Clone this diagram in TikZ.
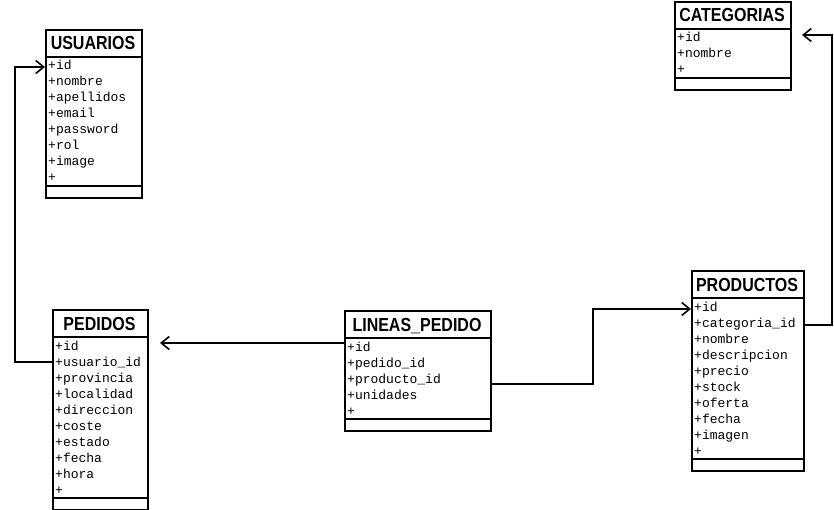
\documentclass[tikz,border=0pt]{standalone}
\usepackage{fontspec}
\setmainfont{Liberation Sans}
\newfontfamily\monof{Liberation Mono}
\usetikzlibrary{arrows.meta,calc}
\tikzset{
  umlbox/.style={draw, line width=2pt, inner sep=0pt, anchor=north west, fill=white},
  titletext/.style={font=\fontsize{16}{18}\selectfont\bfseries, inner sep=0pt, anchor=base},
  attrtext/.style={font=\monof\fontsize{13}{14}\selectfont, inner sep=0pt, anchor=base west},
  sepline/.style={line width=2pt},
  arr/.style={line width=2pt, -{Straight Barb[length=8pt,width=13pt,line width=1.6pt]}},
}
% #1 name, #2 x, #3 y, #4 width, #5 number of rows, #6 title, #7 attrs
\newcommand{\umlclass}[7]{%
  \pgfmathsetmacro\hgt{40+16*#5}%
  \pgfmathsetmacro\botline{#3+29+16*#5}%
  \node[umlbox, minimum width=#4pt, minimum height=\hgt pt] (#1) at (#2,#3) {};
  \node[titletext] (#1-t) at ($(#2,#3)+(#4/2,21)$) {\scalebox{1}[1.18]{#6}};
  \draw[sepline] (#2,#3+28) -- (#2+#4,#3+28);
  \draw[sepline] (#2,\botline) -- (#2+#4,\botline);
  \foreach \a [count=\i] in {#7} {
    \node[attrtext] (#1-\i) at (#2+3,#3+28+9+16*\i-16+4) {\a};
  }
}
\begin{document}
\begin{tikzpicture}[x=1pt,y=-1pt]
\useasboundingbox (0,0) rectangle (834,510);

\umlclass{usu}{45}{29}{96}{8}{USUARIOS}{+id,+nombre,+apellidos,+email,+password,+rol,+image,+}
\umlclass{cat}{674}{1}{116}{3}{CATEGORIAS}{+id,+nombre,+}
\umlclass{ped}{52}{309}{95}{10}{PEDIDOS}{+id,+usuario\_id,+provincia,+localidad,+direccion,+coste,+estado,+fecha,+hora,+}
\umlclass{lin}{344}{310}{146}{5}{LINEAS\_PEDIDO}{+id,+pedido\_id,+producto\_id,+unidades,+}
\umlclass{pro}{691}{270}{112}{10}{PRODUCTOS}{+id,+categoria\_id,+nombre,+descripcion,+precio,+stock,+oferta,+fecha,+imagen,+}

% PEDIDOS -> USUARIOS
\draw[arr] (ped.west |- 0,362) -- ++(-37,0) |- (usu.west |- 0,67);
% LINEAS_PEDIDO -> PEDIDOS
\draw[arr, shorten >=11pt] (lin.west |- 0,343) -- (ped.east |- 0,343);
% LINEAS_PEDIDO -> PRODUCTOS
\draw[arr] (lin.east |- 0,384) -- (593,384) |- (pro.west |- 0,309);
% PRODUCTOS -> CATEGORIAS
\draw[arr, shorten >=10pt] (pro.east |- 0,325) -- (832,325) |- (cat.east |- 0,35);
\end{tikzpicture}
\end{document}
